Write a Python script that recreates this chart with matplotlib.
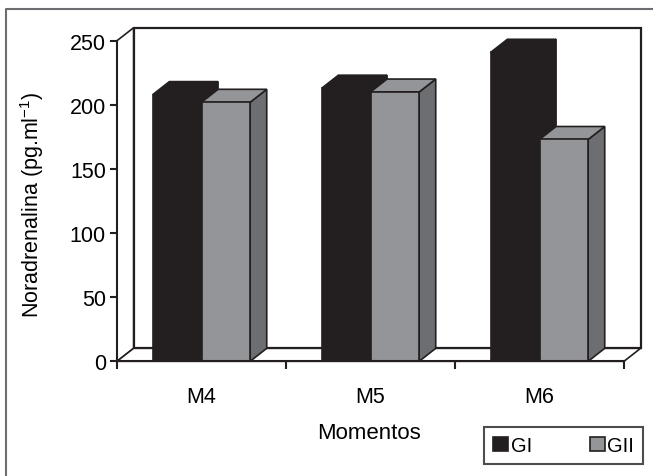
import matplotlib.pyplot as plt
from matplotlib.patches import Polygon
from matplotlib.lines import Line2D

plt.rcParams['font.family'] = ['Liberation Sans', 'DejaVu Sans']
plt.rcParams['mathtext.fontset'] = 'custom'
plt.rcParams['mathtext.rm'] = 'Liberation Sans'
plt.rcParams['mathtext.it'] = 'Liberation Sans:italic'

# noradrenaline by moment and group
momentos = ['M4', 'M5', 'M6']
gi = [208, 213, 241]
gii = [202, 210, 173]
grupos = ['GI', 'GII']
y_ticks = [0, 50, 100, 150, 200, 250]

INK = '#231f20'
front = {'GI': INK, 'GII': '#939598'}
top = {'GI': INK, 'GII': '#939598'}
side = {'GI': INK, 'GII': '#6d6e71'}

# depth of the pseudo-3D box, in data units
DX = 0.098
DY = 10.1
WIDTH = 0.288

fig = plt.figure(figsize=(6.53, 4.77), dpi=100)
ax = fig.add_axes([117 / 653, (477 - 362.3) / 477, 507 / 653, 320.6 / 477])
ax.set_xlim(-0.5, len(momentos) - 0.5)
ax.set_ylim(0, 250)
ax.patch.set_visible(False)

x0, x1 = -0.5, len(momentos) - 0.5
ymax = 250
lw = 1.2

def poly(pts, fc, z, lw=lw):
    p = Polygon(pts, closed=True, facecolor=fc, edgecolor=INK, linewidth=lw,
                clip_on=False, zorder=z, joinstyle='miter')
    ax.add_patch(p)

# walls and floor
poly([(x0 + DX, DY), (x1 + DX, DY), (x1 + DX, ymax + DY), (x0 + DX, ymax + DY)], 'white', 0.5, lw=1.6)
poly([(x0, 0), (x0 + DX, DY), (x0 + DX, ymax + DY), (x0, ymax)], 'white', 0.6)
poly([(x0, 0), (x1, 0), (x1 + DX, DY), (x0 + DX, DY)], 'white', 0.7)

# columns
handles = []
for i, m in enumerate(momentos):
    for j, (g, vals) in enumerate(zip(grupos, [gi, gii])):
        v = vals[i]
        left = i - WIDTH + j * WIDTH
        right = left + WIDTH
        z = 2 + j
        b = ax.bar(left, v, width=WIDTH, align='edge', color=front[g],
                   edgecolor=INK, linewidth=lw, zorder=z + 0.2, label=g)
        if i == 0:
            handles.append(b[0])
        poly([(left, v), (right, v), (right + DX, v + DY), (left + DX, v + DY)], top[g], z + 0.1)
        poly([(right, 0), (right + DX, DY), (right + DX, v + DY), (right, v)], side[g], z)

# axes
for s in ['top', 'right']:
    ax.spines[s].set_visible(False)
for s in ['left', 'bottom']:
    ax.spines[s].set_linewidth(1.5)
    ax.spines[s].set_color(INK)
    ax.spines[s].set_zorder(6)

ax.set_yticks(y_ticks)
ax.tick_params(axis='y', length=5, width=1.5, color=INK, pad=3, labelsize=15.5)
ax.set_xticks(range(len(momentos)))
ax.set_xticklabels(momentos)
ax.set_xticks([k - 0.5 for k in range(len(momentos) + 1)], minor=True)
ax.tick_params(axis='x', which='major', length=0, pad=18, labelsize=15.5)
ax.tick_params(axis='x', which='minor', length=6, width=1.5, color=INK)

fig.text(32 / 653, 1 - 205 / 477, 'Noradrenalina (pg.ml$^{-1}$)', rotation=90,
         ha='center', va='center', fontsize=15.5)
fig.text(369 / 653, 1 - 434 / 477, 'Momentos', ha='center', va='center', fontsize=16)

leg = fig.legend(handles, grupos, loc='center', ncol=2, mode='expand',
                 bbox_to_anchor=(484 / 653, 11 / 477, 159 / 653, 39 / 477),
                 fontsize=14.5, frameon=True, fancybox=False, handlelength=0.75,
                 handleheight=0.75, handletextpad=0.12, borderpad=0.45,
                 borderaxespad=0, columnspacing=1.0)
leg.get_frame().set_edgecolor(INK)
leg.get_frame().set_linewidth(1.5)

# outer frame
fig.add_artist(Line2D([6 / 653, 6 / 653, 1], [0, 1 - 10 / 477, 1 - 10 / 477],
                      transform=fig.transFigure, color='#6d6e71', linewidth=1.5))

fig.savefig('out.png', dpi=100)
